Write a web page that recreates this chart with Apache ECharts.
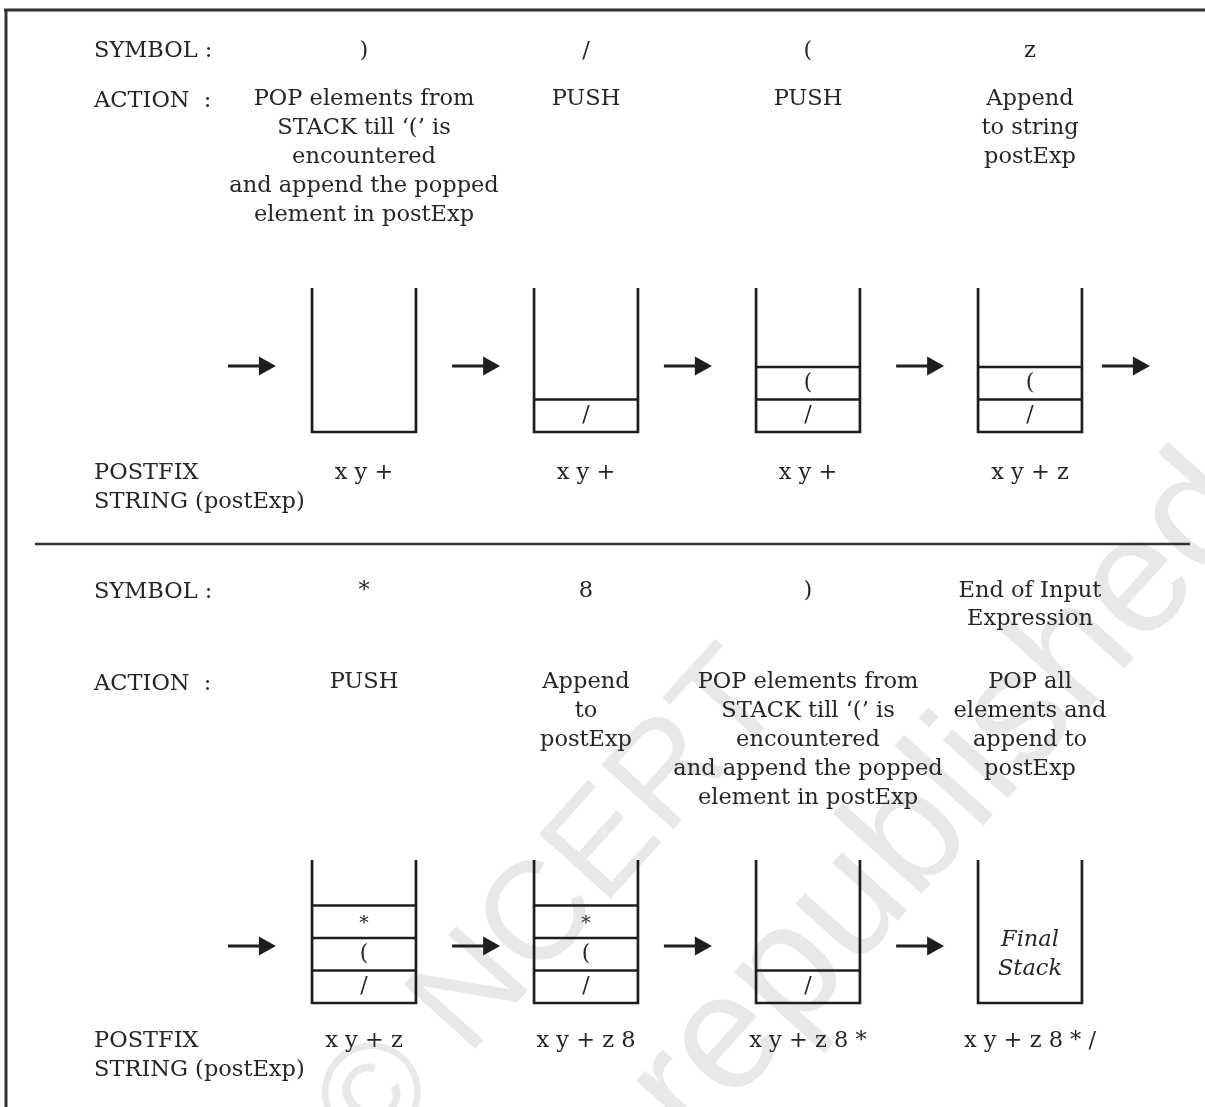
<!DOCTYPE html>
<html><head><meta charset="utf-8">
<script src="https://cdn.jsdelivr.net/npm/echarts@6/dist/echarts.min.js"></script>
<style>html,body{margin:0;padding:0;background:#fff}#c{width:1205px;height:1107px}</style>
</head><body><div id="c"></div>
<script>
// ---------- DATA ----------
const rowLabels = ['SYMBOL :', 'ACTION  :', 'POSTFIX\nSTRING (postExp)'];
const symbolsTop = [')', '/', '(', 'z'];
const actionsTop = [
  'POP elements from\nSTACK till \u2018(\u2019 is\nencountered\nand append the popped\nelement in postExp',
  'PUSH', 'PUSH', 'Append\nto string\npostExp'];
const stacksTop = [[], ['/'], ['/', '('], ['/', '(']];
const postfixTop = ['x y +', 'x y +', 'x y +', 'x y + z'];

const symbolsBottom = ['*', '8', ')', 'End of Input\nExpression'];
const actionsBottom = [
  'PUSH', 'Append\nto\npostExp',
  'POP elements from\nSTACK till \u2018(\u2019 is\nencountered\nand append the popped\nelement in postExp',
  'POP all\nelements and\nappend to\npostExp'];
const stacksBottom = [['/', '(', '*'], ['/', '(', '*'], ['/'], []];
const postfixBottom = ['x y + z', 'x y + z 8', 'x y + z 8 *', 'x y + z 8 * /'];
const finalStackNote = 'Final\nStack';
const watermark = ['\u00a9 NCERT', 'republished'];

// ---------- LAYOUT ----------
const INK = '#262626';
const FONT = '"DejaVu Serif", serif';
const FS = 22.5;
const LH = 28.8;
const TEXT_DY = 1.5;
const layout = {
  labelX: -1.216,
  half: 0.234,
  cellH: 32.5,
  rows: [
    { symY: 50, symLabelY: 50, actY: 98, actLabelY: 100, stackTop: 288, stackBottom: 432, arrowY: 366, postY: 472,
      arrows: [-0.505, 0.505, 1.459, 2.505, 3.432] },
    { symY: 590, symLabelY: 591, actY: 681, actLabelY: 683, stackTop: 860, stackBottom: 1003, arrowY: 946, postY: 1040,
      arrows: [-0.505, 0.505, 1.459, 2.505] }
  ]
};
const rowData = [
  { symbols: symbolsTop, actions: actionsTop, stacks: stacksTop, postfix: postfixTop },
  { symbols: symbolsBottom, actions: actionsBottom, stacks: stacksBottom, postfix: postfixBottom }
];

// text entries
const texts = [];
rowData.forEach((rd, r) => {
  const L = layout.rows[r];
  texts.push({ x: layout.labelX, y: L.symLabelY, t: rowLabels[0], a: 'left' });
  texts.push({ x: layout.labelX, y: L.actLabelY, t: rowLabels[1], a: 'left' });
  texts.push({ x: layout.labelX, y: L.postY, t: rowLabels[2], a: 'left' });
  rd.symbols.forEach((s, c) => texts.push({ x: c, y: L.symY, t: s, a: 'center', lh: 28 }));
  rd.actions.forEach((s, c) => texts.push({ x: c, y: L.actY, t: s, a: 'center' }));
  rd.postfix.forEach((s, c) => texts.push({ x: c, y: L.postY, t: s, a: 'center' }));
});

const stackItems = [];
rowData.forEach((rd, r) => rd.stacks.forEach((s, c) => stackItems.push([c, r])));
const arrowItems = [];
layout.rows.forEach((L, r) => L.arrows.forEach(x => arrowItems.push([x, r])));

function renderText(params, api) {
  const e = texts[params.dataIndex];
  const p = api.coord([e.x, e.y]);
  const lh = e.lh || LH;
  return {
    type: 'text', x: p[0], y: p[1] - lh / 2 + TEXT_DY,
    style: { text: e.t, fill: INK, font: FS + 'px ' + FONT, align: e.a, verticalAlign: 'top', lineHeight: lh }
  };
}

function renderStack(params, api) {
  const c = api.value(0), r = api.value(1);
  const L = layout.rows[r];
  const items = rowData[r].stacks[c];
  const bl = api.coord([c - layout.half, L.stackBottom]);
  const tr = api.coord([c + layout.half, L.stackTop]);
  const x0 = bl[0], x1 = tr[0], yb = bl[1], yt = tr[1];
  const stroke = { stroke: '#1e1e1e', lineWidth: 2.7, fill: null, lineJoin: 'miter' };
  const children = [{ type: 'polyline', shape: { points: [[x0, yt], [x0, yb], [x1, yb], [x1, yt]] }, style: stroke }];
  items.forEach((s, i) => {
    const yl = api.coord([c, L.stackBottom - (i + 1) * layout.cellH])[1];
    const yc = api.coord([c, L.stackBottom - (i + 0.5) * layout.cellH])[1];
    children.push({ type: 'line', shape: { x1: x0, y1: yl, x2: x1, y2: yl }, style: stroke });
    children.push({ type: 'text', x: (x0 + x1) / 2, y: yc + (s === '*' ? 2 : 0),
      style: { text: s, fill: INK, font: (s === '*' ? 19 : 22) + 'px ' + FONT, align: 'center', verticalAlign: 'middle' } });
  });
  if (items.length === 0 && r === 1) {
    const ym = api.coord([c, 939])[1];
    children.push({ type: 'text', x: (x0 + x1) / 2, y: ym - LH / 2 + TEXT_DY,
      style: { text: finalStackNote, fill: INK, font: 'italic ' + FS + 'px ' + FONT, align: 'center', verticalAlign: 'top', lineHeight: LH } });
  }
  return { type: 'group', children };
}

function renderArrow(params, api) {
  const cx = api.value(0), r = api.value(1);
  const L = layout.rows[r];
  const a = api.coord([cx, L.arrowY]);
  const halfLen = 24, head = 17, hw = 9.5;
  const xs = a[0] - halfLen, xe = a[0] + halfLen, y = a[1];
  return { type: 'group', children: [
    { type: 'line', shape: { x1: xs, y1: y, x2: xe - head + 2, y2: y }, style: { stroke: '#1e1e1e', lineWidth: 3 } },
    { type: 'polygon', shape: { points: [[xe - head, y - hw], [xe, y], [xe - head, y + hw]] }, style: { fill: '#1e1e1e' } }
  ] };
}

const WM_ROT = 48 * Math.PI / 180;
const chart = echarts.init(document.getElementById('c'), null, { renderer: 'canvas' });
chart.setOption({
  backgroundColor: '#ffffff',
  animation: false,
  grid: { left: 364, right: 175, top: 0, bottom: 0 },
  xAxis: { type: 'value', min: 0, max: 3, show: false },
  yAxis: { type: 'value', min: 0, max: 1107, inverse: true, show: false },
  graphic: [
    { type: 'text', z: 0, rotation: WM_ROT, x: 760, y: 675,
      style: { text: watermark[0], fill: '#e8e8e8', font: '140px "Liberation Sans", Arial, sans-serif', align: 'right', verticalAlign: 'middle' } },
    { type: 'text', z: 0, rotation: WM_ROT, x: 945, y: 800,
      style: { text: watermark[1], fill: '#e8e8e8', font: '165px "Liberation Sans", Arial, sans-serif', align: 'center', verticalAlign: 'middle' } },
    { type: 'line', z: 10, shape: { x1: 4, y1: 10, x2: 1205, y2: 10 }, style: { stroke: '#333', lineWidth: 3 } },
    { type: 'line', z: 10, shape: { x1: 6, y1: 9, x2: 6, y2: 1107 }, style: { stroke: '#333', lineWidth: 3 } },
    { type: 'line', z: 10, shape: { x1: 35, y1: 544, x2: 1190, y2: 544 }, style: { stroke: '#333', lineWidth: 2.6 } }
  ],
  series: [
    { type: 'custom', name: 'stacks', coordinateSystem: 'cartesian2d', clip: false, data: stackItems, renderItem: renderStack, z: 5 },
    { type: 'custom', name: 'arrows', coordinateSystem: 'cartesian2d', clip: false, data: arrowItems, renderItem: renderArrow, z: 5 },
    { type: 'custom', name: 'texts', coordinateSystem: 'cartesian2d', clip: false, data: texts.map(e => [e.x, e.y]), renderItem: renderText, z: 6 }
  ]
});
</script></body></html>
